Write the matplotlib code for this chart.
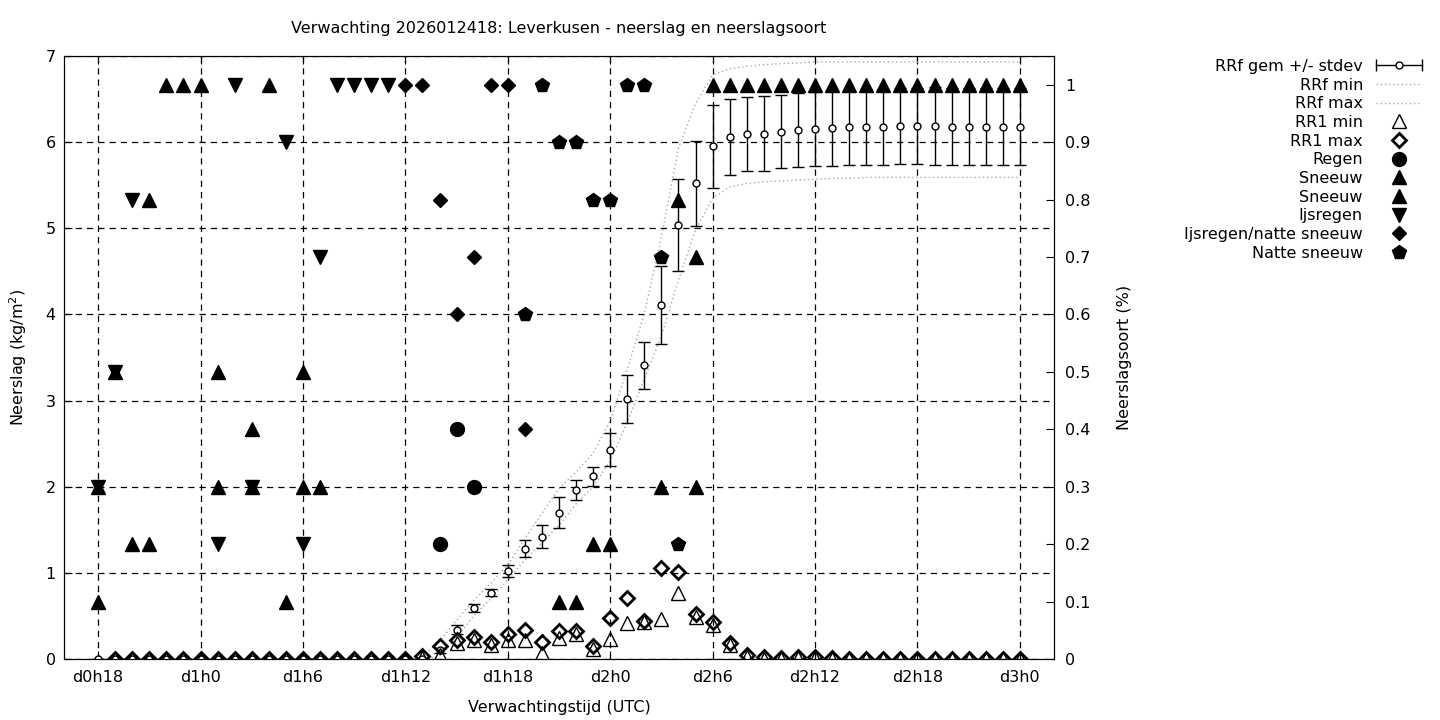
import numpy as np
import matplotlib
matplotlib.use('Agg')
import matplotlib.pyplot as plt
from matplotlib.lines import Line2D
from matplotlib.legend_handler import HandlerBase
from matplotlib.container import ErrorbarContainer

# forecast hours (d0h18 .. d3h0)
hours = list(range(18, 73))
tick_hours = [18, 24, 30, 36, 42, 48, 54, 60, 66, 72]
tick_labels = ['d0h18', 'd1h0', 'd1h6', 'd1h12', 'd1h18', 'd2h0',
               'd2h6', 'd2h12', 'd2h18', 'd3h0']

# accumulated precipitation RRf (kg/m2), hours 18..37 are all zero
rrf_mean = [0.0] * 20 + [
    0.10, 0.34, 0.59, 0.77, 1.02, 1.28, 1.42, 1.70, 1.96, 2.12,
    2.43, 3.02, 3.41, 4.11, 5.04, 5.52, 5.95, 6.06, 6.09, 6.10,
    6.12, 6.14, 6.15, 6.16, 6.17, 6.18, 6.18, 6.19, 6.19, 6.19,
    6.18, 6.18, 6.18, 6.18, 6.18]
rrf_std = [0.0] * 20 + [
    0.03, 0.05, 0.05, 0.04, 0.07, 0.10, 0.135, 0.175, 0.12, 0.11,
    0.19, 0.28, 0.27, 0.45, 0.535, 0.49, 0.48, 0.44, 0.43, 0.43,
    0.425, 0.43, 0.43, 0.44, 0.44, 0.44, 0.44, 0.44, 0.44, 0.45,
    0.45, 0.45, 0.45, 0.45, 0.45]
rrf_min = [0.0] * 20 + [
    0.03, 0.25, 0.50, 0.70, 0.92, 1.15, 1.35, 1.55, 1.80, 2.00,
    2.30, 2.75, 3.25, 3.75, 4.40, 4.98, 5.35, 5.48, 5.52, 5.54,
    5.55, 5.56, 5.57, 5.58, 5.58, 5.59, 5.59, 5.59, 5.59, 5.59,
    5.59, 5.59, 5.59, 5.59, 5.59]
rrf_max = [0.0] * 19 + [
    0.03, 0.20, 0.45, 0.68, 0.88, 1.09, 1.40, 1.69, 1.98, 2.17,
    2.39, 2.77, 3.36, 4.01, 4.90, 5.93, 6.45, 6.78, 6.85, 6.88,
    6.90, 6.91, 6.92, 6.93, 6.93, 6.93, 6.93, 6.93, 6.93, 6.93,
    6.93, 6.93, 6.93, 6.93, 6.93, 6.93]

# hourly precipitation RR1 (kg/m2), none at hour 18
rr1_min = [np.nan] + [0.0] * 18 + [
    0.01, 0.05, 0.18, 0.22, 0.16, 0.22, 0.22, 0.07, 0.24, 0.29,
    0.12, 0.23, 0.42, 0.43, 0.46, 0.77, 0.49, 0.40, 0.16, 0.02,
    0.0, 0.0, 0.01, 0.01] + [0.0] * 12
rr1_max = [np.nan] + [0.0] * 18 + [
    0.03, 0.15, 0.22, 0.26, 0.20, 0.29, 0.34, 0.20, 0.32, 0.33,
    0.15, 0.48, 0.71, 0.44, 1.06, 1.01, 0.52, 0.43, 0.19, 0.05,
    0.02, 0.01, 0.02, 0.02, 0.01] + [0.0] * 11

# precipitation type fractions per hour
regen = {38: 0.2, 39: 0.4, 40: 0.3}
sneeuw1 = {18: 0.3, 19: 0.5, 20: 0.2, 21: 0.8, 22: 1.0, 23: 1.0, 24: 1.0,
           25: 0.5, 27: 0.4, 28: 1.0, 29: 0.1, 30: 0.5, 31: 0.3,
           45: 0.1, 46: 0.1, 47: 0.2, 48: 0.2, 51: 0.3, 52: 0.8, 53: 0.7,
           54: 1.0, 55: 1.0, 56: 1.0, 57: 1.0, 58: 1.0, 59: 1.0, 60: 1.0,
           61: 1.0, 62: 1.0, 63: 1.0, 64: 1.0, 65: 1.0, 66: 1.0, 67: 1.0,
           68: 1.0, 69: 1.0, 70: 1.0, 71: 1.0, 72: 1.0}
sneeuw2 = {18: 0.1, 21: 0.2, 25: 0.3, 27: 0.3, 30: 0.3, 53: 0.3}
ijsregen = {18: 0.3, 19: 0.5, 20: 0.8, 25: 0.2, 26: 1.0, 27: 0.3,
            29: 0.9, 30: 0.2, 31: 0.7, 32: 1.0, 33: 1.0, 34: 1.0, 35: 1.0}
ijsregen_ns = {36: 1.0, 37: 1.0, 38: 0.8, 39: 0.6, 40: 0.7, 41: 1.0,
               42: 1.0, 43: 0.4}
natte_sneeuw = {43: 0.6, 44: 1.0, 45: 0.9, 46: 0.9, 47: 0.8, 48: 0.8,
                49: 1.0, 50: 1.0, 51: 0.7, 52: 0.2}


def per_hour(d):
    return [d.get(h, np.nan) for h in hours]


class ErrHandler(HandlerBase):
    # gnuplot style sample: horizontal bar with caps and a circle
    def create_artists(self, legend, orig_handle, xdescent, ydescent,
                       width, height, fontsize, trans):
        y = height / 2 - ydescent
        x0, x1 = -xdescent, width - xdescent
        bar = Line2D([x0, x1], [y, y], color='black', lw=1)
        caps = Line2D([x0, x1], [y, y], ls='none', marker='|', ms=8,
                      mew=1, color='black')
        dot = Line2D([(x0 + x1) / 2], [y], ls='none', marker='o', ms=5,
                     mfc='white', mec='black', mew=1)
        for a in (bar, caps, dot):
            a.set_transform(trans)
        return [bar, caps, dot]


plt.rcParams['font.family'] = 'DejaVu Sans'
plt.rcParams['font.size'] = 11.5

fig = plt.figure(figsize=(14.4, 7.2), dpi=100)
ax = fig.add_axes([64 / 1440, 61 / 720, 990 / 1440, 603 / 720])
ax2 = ax.twinx()

ax.set_xlim(16, 74)
ax.set_ylim(0, 7)
ax2.set_ylim(0, 1.05)

ax.grid(True, color='black', lw=0.9, linestyle=(0, (5, 4)))

h_err = ax.errorbar(hours, rrf_mean, yerr=rrf_std, fmt='o', ms=5,
                    mfc='white', mec='black', mew=1, ecolor='black',
                    elinewidth=1, capsize=4, capthick=1, zorder=3,
                    label='RRf gem +/- stdev')
h_min, = ax.plot(hours, rrf_min, color='#a8a8a8', lw=1,
                 ls=(0, (1, 2)), label='RRf min')
h_max, = ax.plot(hours, rrf_max, color='#a8a8a8', lw=1,
                 ls=(0, (1, 2)), label='RRf max')
h_r1min, = ax.plot(hours, rr1_min, ls='none', marker='^', ms=10,
                   mfc='none', mec='black', mew=1, zorder=4,
                   label='RR1 min')
h_r1max, = ax.plot(hours, rr1_max, ls='none', marker='D', ms=7.5,
                   mfc='none', mec='black', mew=2, zorder=4,
                   label='RR1 max')

h_regen, = ax2.plot(hours, per_hour(regen), ls='none', marker='o', ms=10,
                    color='black', label='Regen')
h_sn1, = ax2.plot(hours, per_hour(sneeuw1), ls='none', marker='^', ms=10,
                  color='black', label='Sneeuw')
h_sn2, = ax2.plot(hours, per_hour(sneeuw2), ls='none', marker='^', ms=10,
                  color='black', label='Sneeuw')
h_ijs, = ax2.plot(hours, per_hour(ijsregen), ls='none', marker='v', ms=10,
                  color='black', label='Ijsregen')
h_ijsns, = ax2.plot(hours, per_hour(ijsregen_ns), ls='none', marker='D',
                    ms=7.5, color='black', label='Ijsregen/natte sneeuw')
h_ns, = ax2.plot(hours, per_hour(natte_sneeuw), ls='none', marker='p',
                 ms=10, color='black', label='Natte sneeuw')

ax.set_xticks(tick_hours)
ax.set_xticklabels(tick_labels)
ax.set_yticks(range(0, 8))
ax.set_yticklabels([str(v) for v in range(0, 8)])
ax.tick_params(axis='both', direction='in', length=6, labelsize=11.5)
ax.tick_params(axis='x', pad=8, top=True)
ax.tick_params(axis='y', pad=6)

r_ticks = [0, 0.1, 0.2, 0.3, 0.4, 0.5, 0.6, 0.7, 0.8, 0.9, 1.0]
ax2.set_yticks(r_ticks)
ax2.set_yticklabels(['%g' % v for v in r_ticks])
ax2.tick_params(axis='y', direction='in', length=6, labelsize=11.5, pad=8)

ax.set_xlabel('Verwachtingstijd (UTC)')
ax.xaxis.set_label_coords(0.5, -0.068)
ax.set_ylabel('Neerslag (kg/m$^2$)')
ax.yaxis.set_label_coords(-0.035, 0.5)
ax2.set_ylabel('Neerslagsoort (%)')
ax2.yaxis.set_label_coords(1.064, 0.5)

fig.text(559 / 1440, 1 - 29 / 720,
         'Verwachting 2026012418: Leverkusen - neerslag en neerslagsoort',
         ha='center', va='center', fontsize=11.5)

handles = [h_err, h_min, h_max, h_r1min, h_r1max, h_regen, h_sn1, h_sn2,
           h_ijs, h_ijsns, h_ns]
labels = [h.get_label() for h in handles]
fig.legend(handles, labels, loc='upper right',
           bbox_to_anchor=(1422 / 1440, 1 - 59 / 720),
           markerfirst=False, frameon=False, fontsize=11.5,
           handlelength=2.9, handletextpad=0.8, labelspacing=0.23,
           borderpad=0, borderaxespad=0,
           handler_map={ErrorbarContainer: ErrHandler()})

fig.savefig('out.png', dpi=100)
